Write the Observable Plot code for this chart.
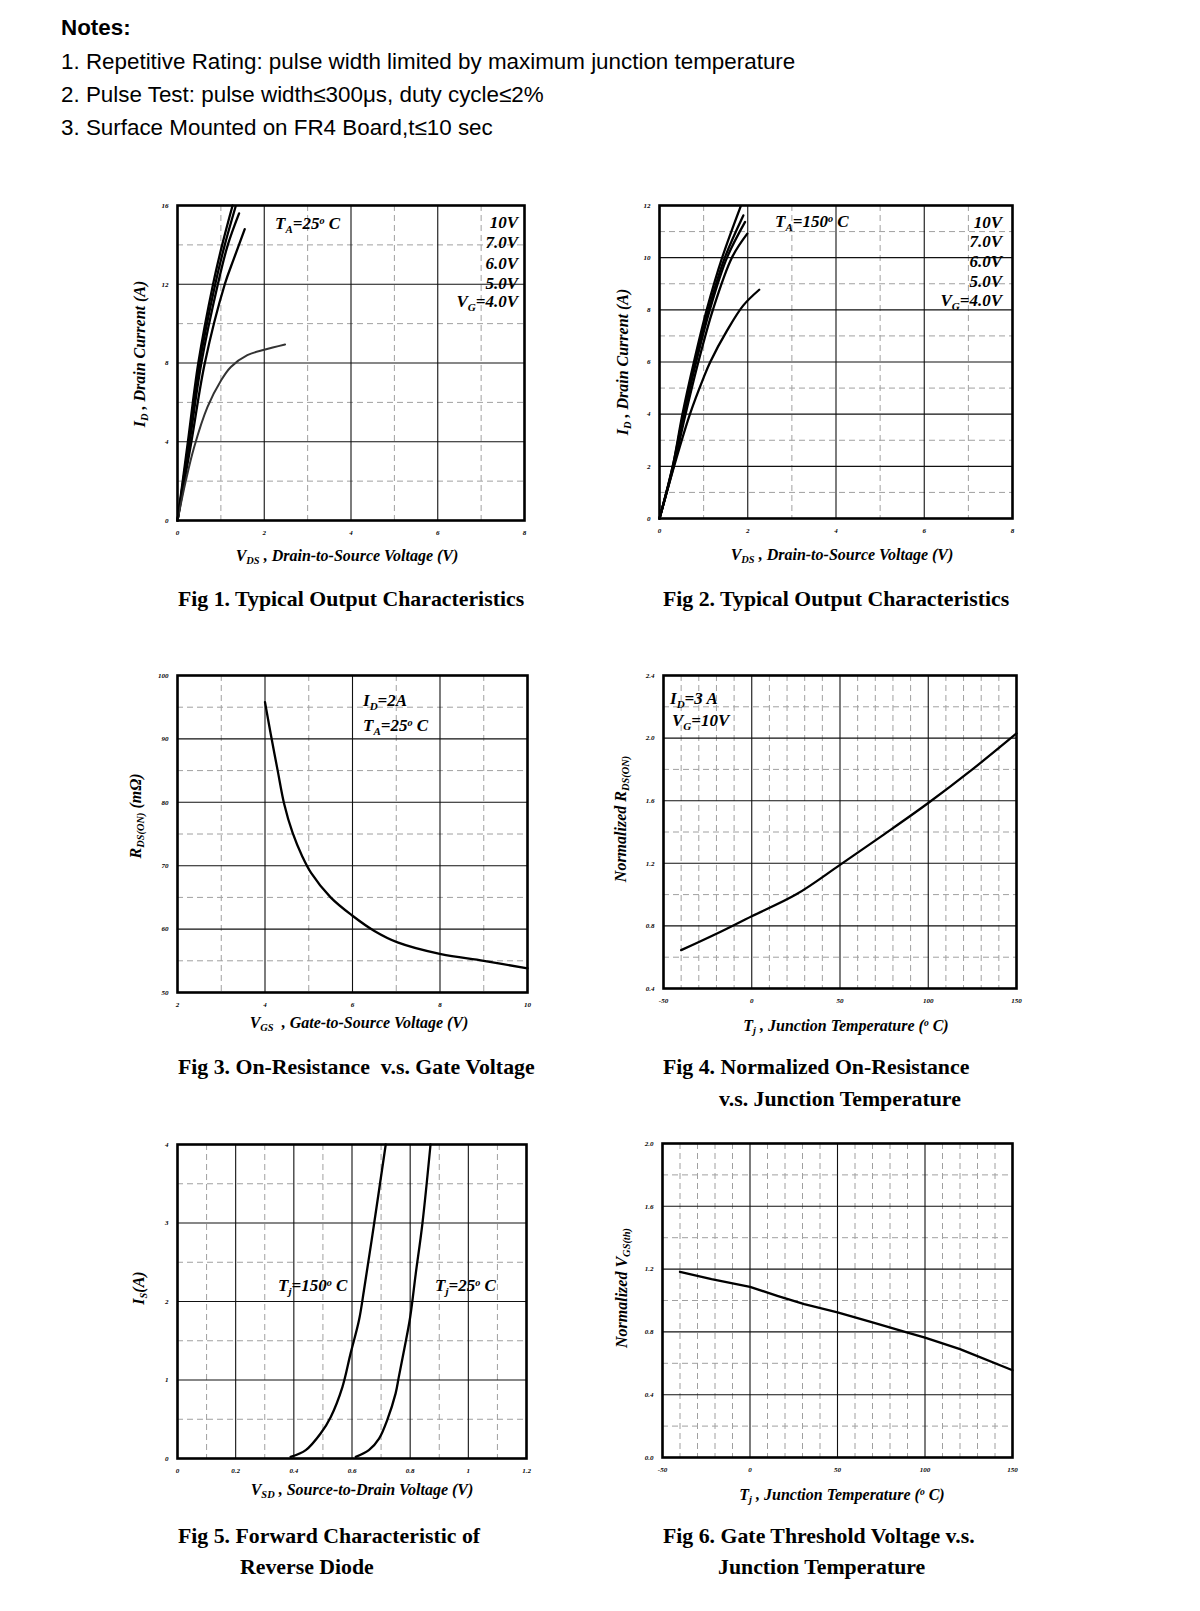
<!DOCTYPE html>
<html><head><meta charset="utf-8">
<script src="https://cdn.jsdelivr.net/npm/d3@7"></script>
<script src="https://cdn.jsdelivr.net/npm/@observablehq/plot@0.6"></script>
<style>
html,body{margin:0;padding:0;background:#fff;}
body{width:1200px;height:1611px;position:relative;overflow:hidden;}
.abs{position:absolute;white-space:nowrap;line-height:1;color:#000;}
.note{font-family:"Liberation Sans",Arial,sans-serif;font-size:22.4px;}
.fig{font-family:"Liberation Serif","Times New Roman",serif;font-weight:bold;font-size:21.8px;}
.lab{font-family:"Liberation Serif","Times New Roman",serif;font-weight:bold;font-style:italic;font-size:17px;}
.ax{font-family:"Liberation Serif","Times New Roman",serif;font-weight:bold;font-style:italic;font-size:16px;}
sub{font-size:65%;vertical-align:-0.3em;}
sup{font-size:60%;vertical-align:0.55em;}
</style></head>
<body>
<script>
// ---------- Notes ----------
const notes = [
  "1. Repetitive Rating: pulse width limited by maximum junction temperature",
  "2. Pulse Test: pulse width\u2264300\u03bcs, duty cycle\u22642%",
  "3. Surface Mounted on FR4 Board,t\u226410 sec"
];

// ---------- Fig 1: Output characteristics, TA = 25 C  [VDS (V), ID (A)] ----------
const fig1Labels = ["10V", "7.0V", "6.0V", "5.0V", "V<sub>G</sub>=4.0V"];
const fig1_vg10 = [[0,0],[0.24,4],[0.48,8],[0.82,12],[1.03,14],[1.27,16]];
const fig1_vg7  = [[0,0],[0.26,4],[0.51,8],[0.87,12],[1.09,14],[1.34,15.95]];
const fig1_vg6  = [[0,0],[0.28,4],[0.55,8],[0.93,12],[1.16,14],[1.42,15.6]];
const fig1_vg5  = [[0,0],[0.32,4],[0.63,8],[1.09,12],[1.3,13.3],[1.55,14.8]];
const fig1_vg4  = [[0,0],[0.19,2],[0.38,3.7],[0.69,5.76],[1.0,7.1],[1.23,7.8],[1.61,8.4],[2.0,8.67],[2.48,8.94]];
const fig1XTicks = [0,2,4,6,8];
const fig1YTicks = [0,4,8,12,16];
const fig1XDash = [1,3,5,7];
const fig1YDash = [2,6,10,14];

// ---------- Fig 2: Output characteristics, TA = 150 C ----------
const fig2Labels = ["10V", "7.0V", "6.0V", "5.0V", "V<sub>G</sub>=4.0V"];
const fig2_vg10 = [[0,0],[0.3,2],[0.52,4],[0.78,6],[1.07,8],[1.42,10],[1.84,11.97]];
const fig2_vg7  = [[0,0],[0.3,2],[0.54,4],[0.81,6],[1.11,8],[1.48,10],[1.9,11.62]];
const fig2_vg6  = [[0,0],[0.31,2],[0.56,4],[0.83,6],[1.14,8],[1.53,10],[1.94,11.37]];
const fig2_vg5  = [[0,0],[0.32,2],[0.59,4],[0.88,6],[1.21,8],[1.64,10],[1.99,10.92]];
const fig2_vg4  = [[0,0],[0.33,2],[0.69,4],[1.0,5.4],[1.15,6.0],[1.53,7.2],[1.9,8.17],[2.26,8.77]];
const fig2XTicks = [0,2,4,6,8];
const fig2YTicks = [0,2,4,6,8,10,12];
const fig2XDash = [1,3,5,7];
const fig2YDash = [1,3,5,7,9,11];

// ---------- Fig 3: RDS(on) vs VGS  [VGS (V), RDS (mOhm)] ----------
const fig3 = [[4.0,95.8],[4.13,90.8],[4.29,85],[4.44,79.7],[4.63,75.2],[4.85,71.5],[5.05,68.9],[5.5,65],[6.0,62.1],[6.5,59.7],[7.03,57.9],[8.02,56.05],[9.0,55],[10,53.8]];
const fig3XTicks = [2,4,6,8,10];
const fig3YTicks = [50,60,70,80,90,100];
const fig3XDash = [3,5,7,9];
const fig3YDash = [55,65,75,85,95];

// ---------- Fig 4: Normalized RDS(on) vs Tj ----------
const fig4 = [[-40,0.645],[-20,0.75],[0,0.862],[25,1.0],[50,1.19],[75,1.385],[100,1.585],[125,1.8],[150,2.03]];
const fig4XTicks = [-50,0,50,100,150];
const fig4YTicks = [0.4,0.8,1.2,1.6,2.0,2.4];
const fig4XDash = [-40,-30,-20,-10,10,20,30,40,60,70,80,90,110,120,130,140];
const fig4YDash = [0.6,1.0,1.4,1.8,2.2];

// ---------- Fig 5: Reverse diode  [VSD (V), IS (A)] ----------
const fig5_tj150 = [[0.389,0.02],[0.441,0.106],[0.492,0.318],[0.527,0.53],[0.567,0.91],[0.595,1.336],[0.624,1.76],[0.641,2.14],[0.676,2.99],[0.716,4.0]];
const fig5_tj25  = [[0.613,0.02],[0.658,0.106],[0.693,0.254],[0.721,0.49],[0.75,0.83],[0.761,1.04],[0.779,1.38],[0.80,1.8],[0.819,2.35],[0.842,2.99],[0.87,4.0]];
const fig5XTicks = [0,0.2,0.4,0.6,0.8,1,1.2];
const fig5YTicks = [0,1,2,3,4];
const fig5XDash = [0.1,0.3,0.5,0.7,0.9,1.1];
const fig5YDash = [0.5,1.5,2.5,3.5];

// ---------- Fig 6: Normalized VGS(th) vs Tj ----------
const fig6 = [[-40,1.183],[-22,1.136],[0,1.087],[15.6,1.03],[31,0.977],[50,0.924],[70,0.86],[90,0.796],[100,0.764],[120,0.69],[150,0.556]];
const fig6XTicks = [-50,0,50,100,150];
const fig6YTicks = [0,0.4,0.8,1.2,1.6,2.0];
const fig6XDash = [-40,-30,-20,-10,10,20,30,40,60,70,80,90,110,120,130,140];
const fig6YDash = [0.2,0.6,1.0,1.4,1.8];

// ---------- helpers ----------
function place(html, x, y, cls, anchor = "start") {
  const d = document.createElement("div");
  d.className = "abs " + cls;
  d.innerHTML = html;
  d.style.left = x + "px";
  d.style.top = y + "px";
  const tx = anchor === "end" ? "-100%" : anchor === "middle" ? "-50%" : "0";
  d.style.transform = `translate(${tx},-50%)`;
  document.body.appendChild(d);
  return d;
}
function placeV(html, x, y, cls) {
  const d = document.createElement("div");
  d.className = "abs " + cls;
  d.innerHTML = html;
  d.style.left = x + "px";
  d.style.top = y + "px";
  d.style.transform = "translate(-50%,-50%) rotate(-90deg)";
  document.body.appendChild(d);
}
const fmtPlain = d => String(d);
const fmt1 = d3.format(".1f");

function panel(o) {
  const mL = 30, mR = 12, mT = 12, mB = 26;
  const xy = {x: d => d[0], y: d => d[1], curve: o.curve || "catmull-rom"};
  const marks = [
    Plot.ruleX(o.xDash, {stroke: "#a0a0a0", strokeWidth: 1, strokeDasharray: "6,4"}),
    Plot.ruleY(o.yDash, {stroke: "#a0a0a0", strokeWidth: 1, strokeDasharray: "6,4"}),
    Plot.ruleX(o.xTicks, {stroke: "#111", strokeWidth: 1.1}),
    Plot.ruleY(o.yTicks, {stroke: "#111", strokeWidth: 1.1}),
    ...o.series.map(s => Plot.line(s.data, {...xy, stroke: s.stroke || "#000", strokeWidth: s.width || 2.3})),
    Plot.axisX(o.xTicks, {tickSize: 0, tickPadding: 10, tickFormat: o.xFmt || fmtPlain}),
    Plot.axisY(o.yTicks, {tickSize: 0, tickPadding: 9, tickFormat: o.yFmt || fmtPlain}),
    Plot.frame({stroke: "#000", strokeWidth: 2.6})
  ];
  const chart = Plot.plot({
    width: o.w + mL + mR,
    height: o.h + mT + mB,
    marginLeft: mL, marginRight: mR, marginTop: mT, marginBottom: mB,
    x: {domain: o.xDomain, axis: null},
    y: {domain: o.yDomain, axis: null},
    style: {fontFamily: "'Liberation Serif', serif", fontStyle: "italic", fontWeight: "bold", fontSize: "7px", background: "transparent", overflow: "visible", color: "#000"},
    marks
  });
  const wrap = document.createElement("div");
  wrap.style.position = "absolute";
  wrap.style.left = (o.left - mL) + "px";
  wrap.style.top = (o.top - mT) + "px";
  wrap.appendChild(chart);
  document.body.appendChild(wrap);
}

// ---------- Notes ----------
place("<b>Notes:</b>", 61, 28, "note");
notes.forEach((t, i) => place(t, 61, 62 + i * 33, "note"));

// ---------- Fig 1 ----------
panel({left: 177, top: 205, w: 347, h: 315, xDomain: [0, 8], yDomain: [0, 16],
  xTicks: fig1XTicks, yTicks: fig1YTicks, xDash: fig1XDash, yDash: fig1YDash,
  series: [{data: fig1_vg10}, {data: fig1_vg7}, {data: fig1_vg6}, {data: fig1_vg5}, {data: fig1_vg4, stroke: "#333", width: 2}]});
place("T<sub>A</sub>=25<sup>o</sup> C", 275, 225, "lab");
fig1Labels.forEach((t, i) => place(t, 518, [222, 242, 263, 283, 303][i], "lab", "end"));
placeV("I<sub>D</sub> , Drain Current (A)", 141, 354, "ax");
place("V<sub>DS</sub> , Drain-to-Source Voltage (V)", 347, 557, "ax", "middle");
place("Fig 1. Typical Output Characteristics", 178, 600, "fig");

// ---------- Fig 2 ----------
panel({left: 659, top: 205, w: 353, h: 313, xDomain: [0, 8], yDomain: [0, 12],
  xTicks: fig2XTicks, yTicks: fig2YTicks, xDash: fig2XDash, yDash: fig2YDash,
  series: [{data: fig2_vg10}, {data: fig2_vg7}, {data: fig2_vg6}, {data: fig2_vg5}, {data: fig2_vg4}]});
place("T<sub>A</sub>=150<sup>o</sup> C", 775, 223, "lab");
fig2Labels.forEach((t, i) => place(t, 1002, [222, 241, 261, 281, 302][i], "lab", "end"));
placeV("I<sub>D</sub> , Drain Current (A)", 624, 362, "ax");
place("V<sub>DS</sub> , Drain-to-Source Voltage (V)", 842, 556, "ax", "middle");
place("Fig 2. Typical Output Characteristics", 663, 600, "fig");

// ---------- Fig 3 ----------
panel({left: 177, top: 675, w: 350, h: 317, xDomain: [2, 10], yDomain: [50, 100],
  xTicks: fig3XTicks, yTicks: fig3YTicks, xDash: fig3XDash, yDash: fig3YDash,
  series: [{data: fig3}]});
place("I<sub>D</sub>=2A", 363, 702, "lab");
place("T<sub>A</sub>=25<sup>o</sup> C", 363, 727, "lab");
placeV("R<sub>DS(ON)</sub> (m\u03a9)", 137, 816, "ax");
place("V<sub>GS</sub> &nbsp;, Gate-to-Source Voltage (V)", 359, 1024, "ax", "middle");
place("Fig 3. On-Resistance &nbsp;v.s. Gate Voltage", 178, 1068, "fig");

// ---------- Fig 4 ----------
panel({left: 663, top: 675, w: 353, h: 313, xDomain: [-50, 150], yDomain: [0.4, 2.4],
  xTicks: fig4XTicks, yTicks: fig4YTicks, xDash: fig4XDash, yDash: fig4YDash,
  yFmt: fmt1, series: [{data: fig4}]});
place("I<sub>D</sub>=3 A", 670, 700, "lab");
place("V<sub>G</sub>=10V", 672, 722, "lab");
placeV("Normalized R<sub>DS(ON)</sub>", 622, 819, "ax");
place("T<sub>j</sub> , Junction Temperature (<sup>o</sup> C)", 846, 1027, "ax", "middle");
place("Fig 4. Normalized On-Resistance", 663, 1068, "fig");
place("v.s. Junction Temperature", 719, 1100, "fig");

// ---------- Fig 5 ----------
panel({left: 177, top: 1144, w: 349, h: 314, xDomain: [0, 1.2], yDomain: [0, 4],
  xTicks: fig5XTicks, yTicks: fig5YTicks, xDash: fig5XDash, yDash: fig5YDash,
  series: [{data: fig5_tj150}, {data: fig5_tj25}]});
place("T<sub>j</sub>=150<sup>o</sup> C", 278, 1287, "lab");
place("T<sub>j</sub>=25<sup>o</sup> C", 435, 1287, "lab");
placeV("I<sub>S</sub>(A)", 140, 1288, "ax");
place("V<sub>SD</sub> , Source-to-Drain Voltage (V)", 362, 1491, "ax", "middle");
place("Fig 5. Forward Characteristic of", 178, 1537, "fig");
place("Reverse Diode", 240, 1568, "fig");

// ---------- Fig 6 ----------
panel({left: 662, top: 1143, w: 350, h: 314, xDomain: [-50, 150], yDomain: [0, 2.0],
  xTicks: fig6XTicks, yTicks: fig6YTicks, xDash: fig6XDash, yDash: fig6YDash,
  yFmt: fmt1, curve: "linear", series: [{data: fig6}]});
placeV("Normalized V<sub>GS(th)</sub>", 623, 1288, "ax");
place("T<sub>j</sub> , Junction Temperature (<sup>o</sup> C)", 842, 1496, "ax", "middle");
place("Fig 6. Gate Threshold Voltage v.s.", 663, 1537, "fig");
place("Junction Temperature", 718, 1568, "fig");
</script>
</body></html>
